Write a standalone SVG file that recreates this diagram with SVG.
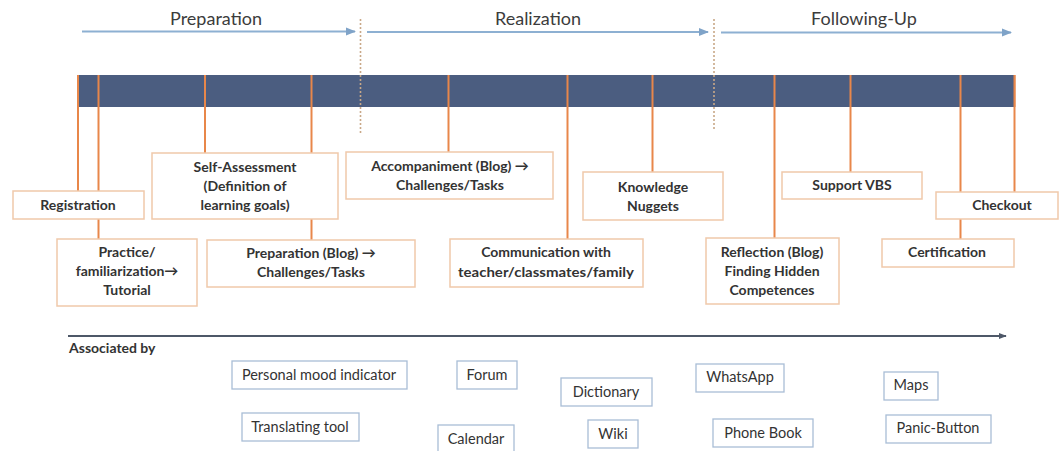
<svg xmlns="http://www.w3.org/2000/svg" width="1060" height="451" viewBox="0 0 1060 451">
<defs>
<marker id="ah" viewBox="0 0 10 10" refX="9" refY="5" markerWidth="5" markerHeight="5" orient="auto"><path d="M0,1 L10,5 L0,9 z" fill="#7fa3c8"/></marker>
<marker id="ah2" viewBox="0 0 10 10" refX="9" refY="5" markerWidth="4" markerHeight="4" orient="auto"><path d="M0,1 L10,5 L0,9 z" fill="#4e5868"/></marker>
<style>
.phase{font-family:Lato,"Liberation Sans",sans-serif;font-size:18px;fill:#3c3c3c}
.ph{stroke:#8db0d2;stroke-width:2;fill:none}
.dot{stroke:#c9a888;stroke-width:1.6;stroke-dasharray:2 2;fill:none}
.tick{stroke:#e8874a;stroke-width:2;fill:none}
.box{fill:#fff;stroke:#f0c9aa;stroke-width:1.5}
.bt{font-family:Lato,"Liberation Sans",sans-serif;font-size:14px;font-weight:bold;fill:#333;text-anchor:middle}
.tb{fill:#fff;stroke:#a9bdd6;stroke-width:1.3}
.tt{font-family:Lato,"Liberation Sans",sans-serif;font-size:14.5px;fill:#333;text-anchor:middle}
</style>
</defs>
<rect width="1060" height="451" fill="#fff"/>
<g id="phases">
<text class="phase" x="216" y="25" text-anchor="middle">Preparation</text>
<text class="phase" x="538" y="25" text-anchor="middle">Realization</text>
<text class="phase" x="864" y="25" text-anchor="middle">Following-Up</text>
</g>
<g id="connectors">
<line class="ph" x1="82" y1="31.5" x2="355" y2="31.5" marker-end="url(#ah)"/>
<line class="ph" x1="367" y1="32" x2="708" y2="32" marker-end="url(#ah)"/>
<line class="ph" x1="721" y1="32.5" x2="1011" y2="32.5" marker-end="url(#ah)"/>
<line class="tick" x1="78" y1="75" x2="78" y2="191"/>
<line class="tick" x1="98.5" y1="75" x2="98.5" y2="239"/>
<line class="tick" x1="205" y1="75" x2="205" y2="153"/>
<line class="tick" x1="311.5" y1="75" x2="311.5" y2="240"/>
<line class="tick" x1="448.5" y1="75" x2="448.5" y2="152"/>
<line class="tick" x1="567.5" y1="75" x2="567.5" y2="239"/>
<line class="tick" x1="652.5" y1="75" x2="652.5" y2="172"/>
<line class="tick" x1="774.5" y1="75" x2="774.5" y2="238"/>
<line class="tick" x1="850.5" y1="75" x2="850.5" y2="172"/>
<line class="tick" x1="960.5" y1="75" x2="960.5" y2="239"/>
<line class="tick" x1="1014.5" y1="75" x2="1014.5" y2="192"/>
<line x1="68" y1="336" x2="1006" y2="336" stroke="#4e5868" stroke-width="2" marker-end="url(#ah2)"/>
</g>
<g id="bar">
<rect x="78" y="75" width="937" height="32" fill="#4b5d80"/>
<g class="tick">
<line x1="98.5" y1="75" x2="98.5" y2="107"/>
<line x1="205" y1="75" x2="205" y2="107"/>
<line x1="311.5" y1="75" x2="311.5" y2="107"/>
<line x1="448.5" y1="75" x2="448.5" y2="107"/>
<line x1="567.5" y1="75" x2="567.5" y2="107"/>
<line x1="652.5" y1="75" x2="652.5" y2="107"/>
<line x1="774.5" y1="75" x2="774.5" y2="107"/>
<line x1="850.5" y1="75" x2="850.5" y2="107"/>
<line x1="960.5" y1="75" x2="960.5" y2="107"/>
<line x1="1014.5" y1="75" x2="1014.5" y2="107"/>
<line x1="78" y1="75" x2="78" y2="107"/>
</g>
<line class="dot" x1="360.5" y1="19" x2="360.5" y2="135"/>
<line class="dot" x1="714" y1="19" x2="714" y2="131"/>
</g>
<g id="registration"><rect class="box" x="13" y="191" width="131" height="28"/><text class="bt" x="78" y="210">Registration</text></g>
<g id="practice"><rect class="box" x="57" y="239" width="140" height="67"/><text class="bt" x="127" y="257">Practice/</text><text class="bt" x="127" y="276">familiarization→</text><text class="bt" x="127" y="295">Tutorial</text></g>
<g id="self-assessment"><rect class="box" x="152" y="153" width="186" height="66"/><text class="bt" x="245" y="172">Self-Assessment</text><text class="bt" x="245" y="191">(Definition of</text><text class="bt" x="245" y="210">learning goals)</text></g>
<g id="preparation-blog"><rect class="box" x="207" y="240" width="208" height="47"/><text class="bt" x="311" y="258">Preparation (Blog) →</text><text class="bt" x="311" y="277">Challenges/Tasks</text></g>
<g id="accompaniment"><rect class="box" x="346" y="152" width="207" height="47"/><text class="bt" x="450" y="171">Accompaniment (Blog) →</text><text class="bt" x="450" y="190">Challenges/Tasks</text></g>
<g id="communication"><rect class="box" x="450" y="239" width="193" height="48"/><text class="bt" x="546" y="257">Communication with</text><text class="bt" x="546" y="277" textLength="176" lengthAdjust="spacingAndGlyphs">teacher/classmates/family</text></g>
<g id="knowledge"><rect class="box" x="583" y="172" width="140" height="48"/><text class="bt" x="653" y="192">Knowledge</text><text class="bt" x="653" y="211">Nuggets</text></g>
<g id="reflection"><rect class="box" x="706" y="238" width="133" height="66"/><text class="bt" x="772" y="257">Reflection (Blog)</text><text class="bt" x="772" y="276">Finding Hidden</text><text class="bt" x="772" y="295">Competences</text></g>
<g id="support-vbs"><rect class="box" x="782" y="172" width="140" height="27"/><text class="bt" x="852" y="190">Support VBS</text></g>
<g id="checkout"><rect class="box" x="936" y="192" width="122" height="27"/><text class="bt" x="1002" y="210">Checkout</text></g>
<g id="certification"><rect class="box" x="882" y="239" width="132" height="28"/><text class="bt" x="947" y="257">Certification</text></g>
<g id="associated">
<text x="69" y="353" font-family="Lato,'Liberation Sans',sans-serif" font-size="14" font-weight="bold" fill="#333">Associated by</text>
</g>
<g id="tool-mood"><rect class="tb" x="232" y="361" width="175" height="28"/><text class="tt" x="319" y="380">Personal mood indicator</text></g>
<g id="tool-forum"><rect class="tb" x="457" y="361" width="60" height="28"/><text class="tt" x="487" y="380">Forum</text></g>
<g id="tool-translating"><rect class="tb" x="242" y="413" width="117" height="28"/><text class="tt" x="300" y="432">Translating tool</text></g>
<g id="tool-calendar"><rect class="tb" x="438" y="425" width="76" height="27"/><text class="tt" x="476" y="444">Calendar</text></g>
<g id="tool-dictionary"><rect class="tb" x="561" y="378" width="91" height="28"/><text class="tt" x="606" y="397">Dictionary</text></g>
<g id="tool-wiki"><rect class="tb" x="588" y="420" width="50" height="28"/><text class="tt" x="613" y="439">Wiki</text></g>
<g id="tool-whatsapp"><rect class="tb" x="696" y="364" width="88" height="28"/><text class="tt" x="740" y="382">WhatsApp</text></g>
<g id="tool-phonebook"><rect class="tb" x="713" y="419" width="100" height="28"/><text class="tt" x="763" y="438">Phone Book</text></g>
<g id="tool-maps"><rect class="tb" x="884" y="372" width="54" height="28"/><text class="tt" x="911" y="390">Maps</text></g>
<g id="tool-panic"><rect class="tb" x="886" y="415" width="105" height="28"/><text class="tt" x="938" y="433">Panic-Button</text></g>
</svg>
